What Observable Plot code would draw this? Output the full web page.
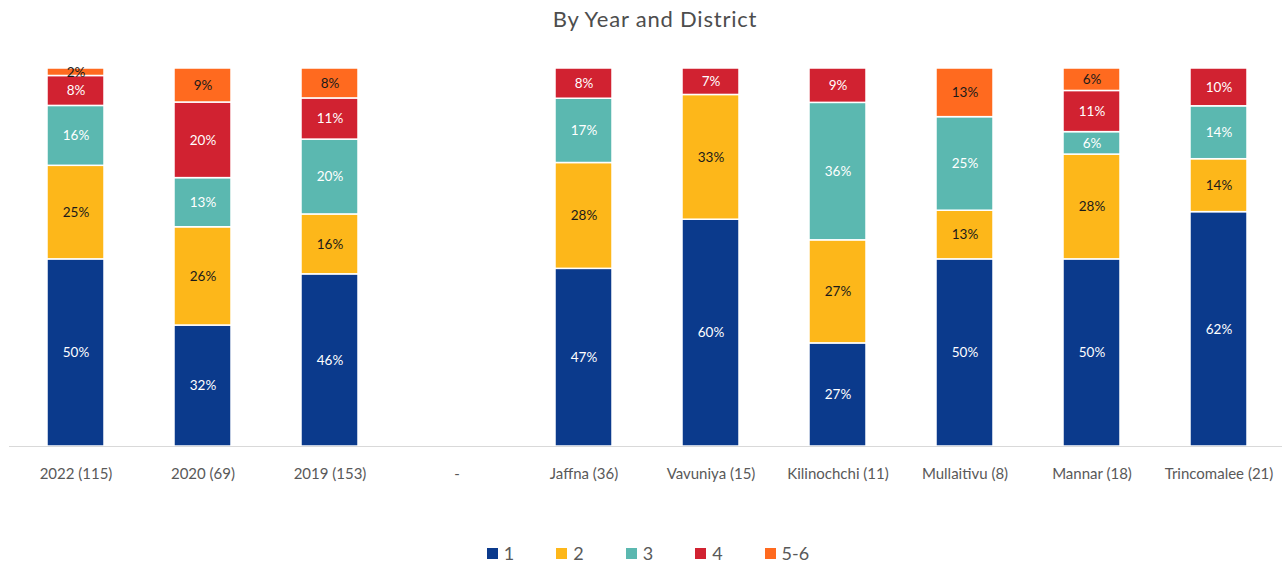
<!DOCTYPE html>
<html>
<head>
<meta charset="utf-8">
<script src="https://cdn.jsdelivr.net/npm/d3@7"></script>
<script src="https://cdn.jsdelivr.net/npm/@observablehq/plot@0.6"></script>
<style>
  html, body { margin: 0; padding: 0; background: #fff; overflow: hidden; }
  body { width: 1282px; height: 564px; font-family: Lato, "Open Sans", sans-serif; }
  #title { height: 40px; line-height: 38px; text-align: center; padding-left: 28px; box-sizing: border-box;
           font-size: 22px; letter-spacing: 0.8px; color: #4d4d4d; font-weight: 400; }
  #legend { display: flex; justify-content: center; align-items: center; gap: 42px;
            padding-top: 22px; height: 22px; padding-left: 14px; font-size: 18px; color: #595959; }
  .item { display: flex; align-items: center; gap: 6px; }
  .sw { width: 11px; height: 11px; display: inline-block; }
</style>
</head>
<body>
<div id="title">By Year and District</div>
<div id="chart"></div>
<div id="legend"></div>
<script>
const categories = ["2022 (115)", "2020 (69)", "2019 (153)", "-", "Jaffna (36)", "Vavuniya (15)",
  "Kilinochchi (11)", "Mullaitivu (8)", "Mannar (18)", "Trincomalee (21)"];
const seriesNames = ["1", "2", "3", "4", "5-6"];
const s1  = [50, 32, 46, null, 47, 60, 27, 50, 50, 62];
const s2  = [25, 26, 16, null, 28, 33, 27, 13, 28, 14];
const s3  = [16, 13, 20, null, 17, 0, 36, 25, 6, 14];
const s4  = [8, 20, 11, null, 8, 7, 9, 0, 11, 10];
const s56 = [2, 9, 8, null, 0, 0, 0, 13, 6, 0];
const colors = ["#0b3a8c", "#fdb71a", "#5bb8b0", "#d12231", "#ff6a1f"];
const labelColors = ["#ffffff", "#1a1a1a", "#ffffff", "#ffffff", "#1a1a1a"];

const seriesValues = [s1, s2, s3, s4, s56];
const rows = [];
seriesNames.forEach((s, si) => {
  categories.forEach((c, ci) => {
    const v = seriesValues[si][ci];
    if (v != null && v > 0) rows.push({cat: c, series: s, value: v});
  });
});

const stackOpts = {x: "cat", y: "value", z: "series", offset: "normalize"};

const chart = Plot.plot({
  width: 1282,
  height: 480,
  marginTop: 28,
  marginBottom: 74,
  marginLeft: 9,
  marginRight: 0,
  style: {fontFamily: "Lato, 'Open Sans', sans-serif", background: "#fff"},
  x: {domain: categories, range: [9, 1285], paddingInner: 0.55, paddingOuter: 0.275, label: null},
  y: {domain: [0, 1], axis: null},
  color: {domain: seriesNames, range: colors},
  marks: [
    Plot.barY(rows, Plot.stackY({...stackOpts, fill: "series", stroke: "#fff", strokeWidth: 1.5})),
    Plot.text(rows, Plot.stackY({...stackOpts,
      text: d => d.value + "%",
      fill: d => labelColors[seriesNames.indexOf(d.series)],
      fontSize: 13.5})),
    Plot.ruleY([0], {stroke: "#d9d9d9", strokeWidth: 1.2}),
    Plot.axisX({tickSize: 0, tickPadding: 22, fontSize: 15, color: "#595959", label: null})
  ]
});
document.getElementById("chart").appendChild(chart);

const legend = document.getElementById("legend");
seriesNames.forEach((s, i) => {
  const it = document.createElement("div");
  it.className = "item";
  const sw = document.createElement("span");
  sw.className = "sw";
  sw.style.background = colors[i];
  const t = document.createElement("span");
  t.textContent = s;
  it.appendChild(sw); it.appendChild(t);
  legend.appendChild(it);
});
</script>
</body>
</html>
